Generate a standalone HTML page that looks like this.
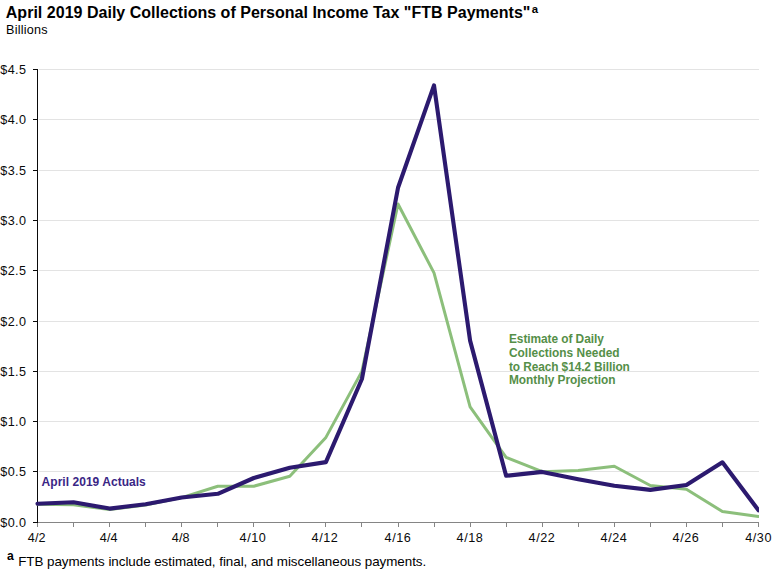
<!DOCTYPE html>
<html><head><meta charset="utf-8">
<style>
html,body{margin:0;padding:0;background:#fff;}
body{width:779px;height:576px;overflow:hidden;}
svg{display:block;font-family:"Liberation Sans",Arial,sans-serif;}
</style></head><body>
<svg width="779" height="576" viewBox="0 0 779 576">
<rect width="779" height="576" fill="#fff"/>
<defs><clipPath id="cp"><rect x="30" y="60" width="729" height="470"/></clipPath></defs>
<g stroke="#e3e3e3" stroke-width="1" shape-rendering="crispEdges">
<line x1="39" x2="759" y1="69.5" y2="69.5"/>
<line x1="39" x2="759" y1="119.5" y2="119.5"/>
<line x1="39" x2="759" y1="170.5" y2="170.5"/>
<line x1="39" x2="759" y1="220.5" y2="220.5"/>
<line x1="39" x2="759" y1="270.5" y2="270.5"/>
<line x1="39" x2="759" y1="321.5" y2="321.5"/>
<line x1="39" x2="759" y1="371.5" y2="371.5"/>
<line x1="39" x2="759" y1="421.5" y2="421.5"/>
<line x1="39" x2="759" y1="471.5" y2="471.5"/>
</g>
<g stroke="#858585" stroke-width="1" fill="none" shape-rendering="crispEdges">
<line x1="38" x2="759" y1="522.5" y2="522.5"/>
<path d="M37.5 523v4M73.5 523v4M109.5 523v4M145.5 523v4M181.5 523v4M217.5 523v4M253.5 523v4M289.5 523v4M325.5 523v4M361.5 523v4M398.5 523v4M434.5 523v4M470.5 523v4M506.5 523v4M542.5 523v4M578.5 523v4M614.5 523v4M650.5 523v4M686.5 523v4M722.5 523v4M758.5 523v4"/>
</g>
<g stroke="#0a0a0a" stroke-width="1" fill="none" shape-rendering="crispEdges">
<line x1="37.5" x2="37.5" y1="69" y2="523"/>
<path d="M33 69.5h4.5M33 119.5h4.5M33 170.5h4.5M33 220.5h4.5M33 270.5h4.5M33 321.5h4.5M33 371.5h4.5M33 421.5h4.5M33 471.5h4.5M33 522.5h4.5"/>
</g>
<g font-size="12.6" fill="#0a0a0a">
<text x="0.3" y="73.8" textLength="25.7">$4.5</text>
<text x="0.3" y="123.8" textLength="25.7">$4.0</text>
<text x="0.3" y="174.8" textLength="25.7">$3.5</text>
<text x="0.3" y="224.8" textLength="25.7">$3.0</text>
<text x="0.3" y="274.8" textLength="25.7">$2.5</text>
<text x="0.3" y="325.8" textLength="25.7">$2.0</text>
<text x="0.3" y="375.8" textLength="25.7">$1.5</text>
<text x="0.3" y="425.8" textLength="25.7">$1.0</text>
<text x="0.3" y="475.8" textLength="25.7">$0.5</text>
<text x="0.3" y="526.8" textLength="25.7">$0.0</text>
</g>
<g font-size="12.6" fill="#0a0a0a" text-anchor="middle">
<text x="36.7" y="541.7" textLength="17.7">4/2</text>
<text x="108.7" y="541.7" textLength="17.7">4/4</text>
<text x="180.7" y="541.7" textLength="17.7">4/8</text>
<text x="252.7" y="541.7" textLength="26.2">4/10</text>
<text x="324.7" y="541.7" textLength="26.2">4/12</text>
<text x="397.7" y="541.7" textLength="26.2">4/16</text>
<text x="469.7" y="541.7" textLength="26.2">4/18</text>
<text x="541.7" y="541.7" textLength="26.2">4/22</text>
<text x="613.7" y="541.7" textLength="26.2">4/24</text>
<text x="685.7" y="541.7" textLength="26.2">4/26</text>
<text x="758.3" y="541.7" textLength="26.2">4/30</text>
</g>
<g clip-path="url(#cp)" fill="none" stroke-linejoin="round" stroke-linecap="round">
<polyline stroke="#8cbf7b" stroke-width="3" points="37.5,504.3 73.5,504.8 109.6,509.6 145.6,505.0 181.7,497.6 217.8,486.2 253.8,486.2 289.8,476.3 325.9,437.4 361.9,371.4 398.0,204.0 434.0,272.9 470.1,406.8 506.1,457.3 542.2,471.7 578.2,470.4 614.3,466.2 650.3,485.5 686.4,489.3 722.4,511.5 758.5,516.4"/>
<polyline stroke="#2c1a6f" stroke-width="4.1" points="37.5,503.7 73.5,502.2 109.6,508.6 145.6,504.2 181.7,497.5 217.8,493.8 253.8,478.0 289.8,467.7 325.9,462.1 361.9,379.0 398.0,187.8 434.0,85.4 470.1,340.6 506.1,475.8 542.2,471.9 578.2,479.2 614.3,485.8 650.3,489.9 686.4,485.0 722.4,462.3 758.5,510.3"/>
</g>
<text x="41.6" y="485.8" font-size="12" font-weight="bold" fill="#3a2685" textLength="104.2">April 2019 Actuals</text>
<g font-size="11.9" font-weight="bold" fill="#558f48">
<text x="509" y="342.7" textLength="94.8">Estimate of Daily</text>
<text x="509" y="356.6" textLength="110.6">Collections Needed</text>
<text x="509" y="370.6" textLength="120.8">to Reach $14.2 Billion</text>
<text x="509" y="384.4" textLength="106.4">Monthly Projection</text>
</g>
<text x="5.8" y="17.6" font-size="16" font-weight="bold" fill="#000" textLength="524.6">April 2019 Daily Collections of Personal Income Tax "FTB Payments"</text>
<text x="531.7" y="13.4" font-size="11.4" font-weight="bold" fill="#000">a</text>
<text x="6.0" y="33.6" font-size="12.6" fill="#000" textLength="41.6">Billions</text>
<text x="7" y="560" font-size="12.2" font-weight="bold" fill="#000">a</text>
<text x="18.2" y="566.1" font-size="13.4" fill="#000" textLength="408">FTB payments include estimated, final, and miscellaneous payments.</text>
</svg>
</body></html>
